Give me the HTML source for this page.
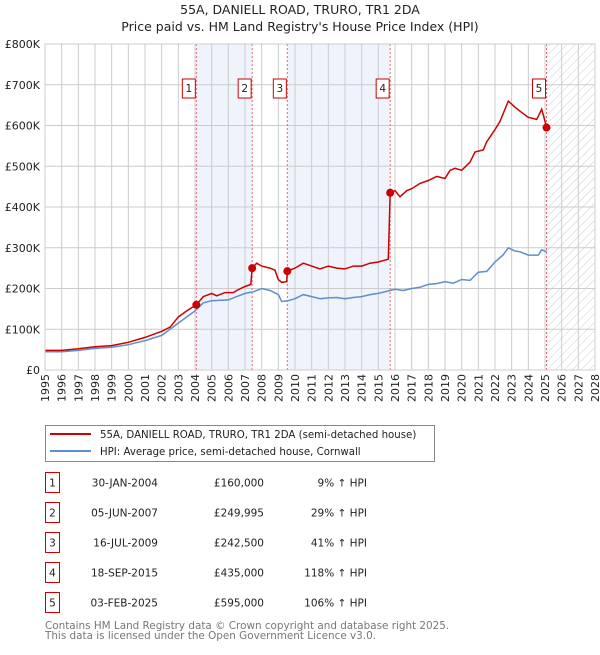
<!DOCTYPE html>
<html><head><meta charset="utf-8">
<style>
body{margin:0;background:#fff;font-family:"Liberation Sans","DejaVu Sans",sans-serif;}
svg text{font-family:"DejaVu Sans","Liberation Sans",sans-serif;}
</style></head>
<body>
<svg id="chart" width="600" height="650" viewBox="0 0 600 650" xmlns="http://www.w3.org/2000/svg">
<defs>
<pattern id="hatch" width="6" height="6" patternUnits="userSpaceOnUse" patternTransform="rotate(45)">
<line x1="0" y1="0" x2="0" y2="6" stroke="#ccc" stroke-width="1"/>
</pattern>
</defs>
<text x="300" y="14" text-anchor="middle" font-size="12.5" fill="#222">55A, DANIELL ROAD, TRURO, TR1 2DA</text>
<text x="300" y="31" text-anchor="middle" font-size="12.5" fill="#222">Price paid vs. HM Land Registry's House Price Index (HPI)</text>
<g id="plot"></g>
<g>
<rect x="45.5" y="425.5" width="389" height="36" fill="#fff" stroke="#888"/>
<line x1="50" y1="434" x2="91" y2="434" stroke="#cc0000" stroke-width="2"/>
<text x="100" y="438" font-size="10.2" fill="#222">55A, DANIELL ROAD, TRURO, TR1 2DA (semi-detached house)</text>
<line x1="50" y1="451" x2="91" y2="451" stroke="#5b8fd0" stroke-width="2"/>
<text x="100" y="455" font-size="10.2" fill="#222">HPI: Average price, semi-detached house, Cornwall</text>
</g>
<g id="table"></g>
<text x="45" y="629" font-size="10.4" fill="#777">Contains HM Land Registry data © Crown copyright and database right 2025.</text>
<text x="45" y="639" font-size="10.4" fill="#777">This data is licensed under the Open Government Licence v3.0.</text>
</svg>
<script>
const yearTicks=[1995,1996,1997,1998,1999,2000,2001,2002,2003,2004,2005,2006,2007,2008,2009,2010,2011,2012,2013,2014,2015,2016,2017,2018,2019,2020,2021,2022,2023,2024,2025,2026,2027,2028];
const valueTicks=[0,100,200,300,400,500,600,700,800];
const valueLabels=["£0","£100K","£200K","£300K","£400K","£500K","£600K","£700K","£800K"];
const hpiYears=[1995,1996,1997,1998,1999,2000,2001,2002,2003,2004,2004.5,2005,2006,2006.5,2007,2007.5,2008,2008.5,2009,2009.2,2009.6,2010,2010.5,2011,2011.5,2012,2012.5,2013,2013.5,2014,2014.5,2015,2015.7,2016,2016.5,2017,2017.5,2018,2018.5,2019,2019.5,2020,2020.5,2021,2021.5,2022,2022.5,2022.8,2023.2,2023.5,2024,2024.6,2024.8,2025.1];
const hpiValues=[45,45,48,53,56,62,72,85,115,145,165,170,172,180,188,192,200,195,185,168,170,175,185,180,175,177,178,175,178,180,185,188,195,198,195,200,203,210,212,217,213,222,220,240,242,265,283,300,292,290,282,282,295,290];
const priceYears=[1995,1996,1997,1998,1999,2000,2001,2002,2002.5,2003,2003.5,2004.08,2004.5,2005,2005.3,2005.8,2006.3,2006.5,2007,2007.35,2007.43,2007.7,2008,2008.5,2008.8,2009,2009.2,2009.5,2009.54,2010,2010.5,2011,2011.5,2012,2012.5,2013,2013.5,2014,2014.5,2015,2015.6,2015.71,2016,2016.3,2016.7,2017,2017.5,2018,2018.5,2019,2019.3,2019.6,2020,2020.5,2020.8,2021.3,2021.5,2022,2022.3,2022.8,2023.2,2023.5,2024,2024.5,2024.8,2025.1];
const priceValues=[48,48,52,57,60,68,80,95,105,130,145,160,180,188,182,190,190,195,205,210,250,262,255,250,245,222,215,217,242.5,250,262,255,248,255,250,248,255,255,262,265,272,435,440,425,440,445,458,465,475,470,490,495,490,510,535,540,560,590,610,660,645,635,620,615,640,595];
const saleLabels=["1","2","3","4","5"];
const saleYears=[2004.08,2007.43,2009.54,2015.71,2025.09];
const saleValues=[160,249.995,242.5,435,595];
const saleDates=["30-JAN-2004","05-JUN-2007","16-JUL-2009","18-SEP-2015","03-FEB-2025"];
const salePrices=["£160,000","£249,995","£242,500","£435,000","£595,000"];
const saleHpi=["9% ↑ HPI","29% ↑ HPI","41% ↑ HPI","118% ↑ HPI","106% ↑ HPI"];

const X0=45,X1=595,Y0=370,Y1=44;
const x=v=>X0+(v-1995)*(X1-X0)/33;
const y=v=>Y0-v*(Y0-Y1)/800;
const NS="http://www.w3.org/2000/svg";
const plot=document.getElementById('plot');
function mk(tag,attrs,parent){const e=document.createElementNS(NS,tag);for(const k in attrs)e.setAttribute(k,attrs[k]);(parent||plot).appendChild(e);return e;}

let r=mk('rect',{x:x(saleYears[0]),y:Y1,width:x(saleYears[1])-x(saleYears[0]),height:Y0-Y1,fill:'#eef3fc'});


r=mk('rect',{x:x(saleYears[2]),y:Y1,width:x(saleYears[3])-x(saleYears[2]),height:Y0-Y1,fill:'#eef3fc'});


r=mk('rect',{x:x(saleYears[4]),y:Y1,width:X1-x(saleYears[4]),height:Y0-Y1,fill:'url(#hatch)'});



yearTicks.forEach(t=>{
  const l=mk('line',{x1:x(t),x2:x(t),y1:Y1,y2:Y0,stroke:'#ccc','stroke-width':1});
  
  
  const tx=mk('text',{x:0,y:0,transform:`translate(${x(t)+4},${Y0+4}) rotate(-90)`,'text-anchor':'end','font-size':11,fill:'#222'});
  tx.textContent=t;
  
  
});
valueTicks.forEach((t,i)=>{
  const l=mk('line',{x1:X0,x2:X1,y1:y(t),y2:y(t),stroke:'#ccc','stroke-width':1});
  
  
  const tx=mk('text',{x:X0-5,y:y(t)+4,'text-anchor':'end','font-size':11,fill:'#222'});
  tx.textContent=valueLabels[i];
  
  
});

saleYears.forEach((s,i)=>{
  const l=mk('line',{x1:x(s),x2:x(s),y1:Y1,y2:Y0,stroke:'#e66','stroke-width':1,'stroke-dasharray':'2,2'});
  
  
});

const hp=hpiYears.map((t,i)=>`${x(t).toFixed(1)},${y(hpiValues[i]).toFixed(1)}`).join(' ');
const hl=mk('polyline',{points:hp,fill:'none',stroke:'#5b8fd0','stroke-width':1.5});


const pp=priceYears.map((t,i)=>`${x(t).toFixed(1)},${y(priceValues[i]).toFixed(1)}`).join(' ');
const pl=mk('polyline',{points:pp,fill:'none',stroke:'#cc0000','stroke-width':1.5});



saleYears.forEach((s,i)=>{
  const c=mk('circle',{cx:x(s),cy:y(saleValues[i]),r:4,fill:'#cc0000'});
  
  
  const g=mk('g',{});
  
  
  mk('rect',{x:x(s)-14,y:79,width:13,height:19,fill:'#fff',stroke:'#cc0000','stroke-width':1},g);
  const t=mk('text',{x:x(s)-7.5,y:92,'text-anchor':'middle','font-size':10.5,fill:'#222'},g);
  t.textContent=saleLabels[i];
});
mk('rect',{x:X0,y:Y1,width:X1-X0,height:Y0-Y1,fill:'none',stroke:'#ccc'});

const tbl=document.getElementById('table');
saleLabels.forEach((lab,i)=>{
  const cy=483+i*30;
  const g=mk('g',{},tbl);
  
  
  mk('rect',{x:45.5,y:cy-10.5,width:14,height:20,fill:'#fff',stroke:'#cc0000'},g);
  let t=mk('text',{x:52.5,y:cy+3.5,'text-anchor':'middle','font-size':10.5,fill:'#222'},g);t.textContent=lab;
  t=mk('text',{x:158,y:cy+3.5,'text-anchor':'end','font-size':10.5,fill:'#222'},g);t.textContent=saleDates[i];
  t=mk('text',{x:264,y:cy+3.5,'text-anchor':'end','font-size':10.5,fill:'#222'},g);t.textContent=salePrices[i];
  t=mk('text',{x:367,y:cy+3.5,'text-anchor':'end','font-size':10.5,fill:'#222'},g);t.textContent=saleHpi[i];
});
</script>
</body></html>
